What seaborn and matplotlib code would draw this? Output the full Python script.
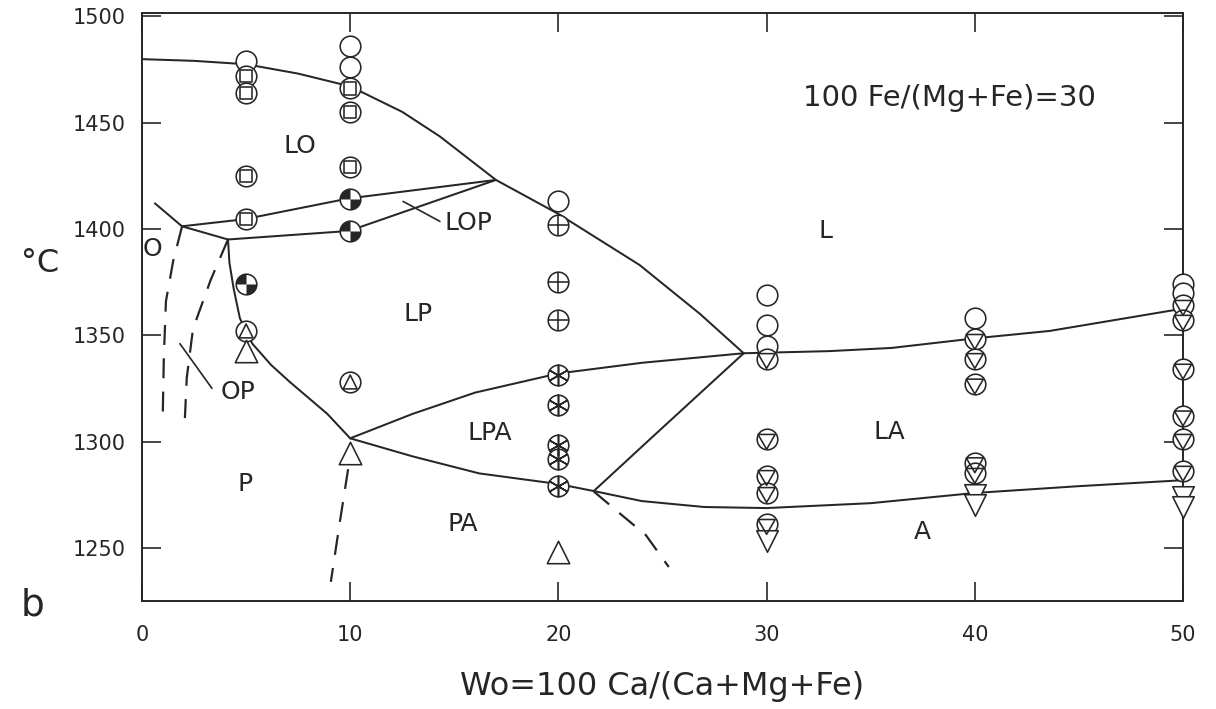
import numpy as np
import pandas as pd
import matplotlib
matplotlib.use("Agg")
import matplotlib.pyplot as plt
import seaborn as sns
from matplotlib.path import Path
from matplotlib.markers import MarkerStyle

# ---------------- data ----------------
# experiment symbols (Wo, T)
circle_x = [5, 10, 10, 20, 30, 30, 30, 40, 50, 50]
circle_T = [1479, 1486, 1476, 1413, 1369, 1355, 1345, 1358, 1374, 1370]

csquare_x = [5, 5, 5, 5, 10, 10, 10]
csquare_T = [1472, 1464, 1425, 1404.5, 1466, 1455, 1429]

checker_x = [5, 10, 10]
checker_T = [1374, 1414, 1399]

cuptri_x = [5, 10]
cuptri_T = [1352, 1328]

uptri_x = [5, 10, 20]
uptri_T = [1342.5, 1294.5, 1248]

cplus_x = [20, 20, 20]
cplus_T = [1402, 1375, 1357]

cstar_x = [20, 20, 20, 20, 20]
cstar_T = [1331.5, 1317, 1298.5, 1292, 1279]

cdtri_x = [30, 30, 30, 30, 30, 40, 40, 40, 40, 40, 50, 50, 50, 50, 50, 50]
cdtri_T = [1339, 1301, 1284, 1276, 1261, 1348, 1339, 1327, 1290, 1285,
           1364, 1357, 1334, 1312, 1301, 1286]

dtri_x = [30, 40, 40, 50, 50]
dtri_T = [1253, 1275, 1270, 1274, 1269]

# phase boundaries (solid)
liq_top_x = [0, 2.5, 5, 7.5, 10, 12.5, 14.3, 17.0]
liq_top_T = [1479.8, 1479, 1477.4, 1473, 1467, 1455, 1443.5, 1423]
l_lp_x = [17, 20, 23.9, 26.8, 28.9]
l_lp_T = [1423, 1407, 1383, 1360, 1341.5]
l_la_x = [28.9, 33, 36, 40, 43.6, 50]
l_la_T = [1341.5, 1342.5, 1344, 1348.5, 1352, 1362.5]
la_a_x = [21.7, 24, 27, 30, 35, 40, 45, 50]
la_a_T = [1276.7, 1272, 1269.2, 1268.7, 1271, 1275.8, 1279, 1281.8]
lpa_pa_x = [10, 13, 16.2, 20, 21.7]
lpa_pa_T = [1301.5, 1293, 1285, 1280, 1276.7]
lp_lpa_x = [10, 13, 16, 20, 24, 28.9]
lp_lpa_T = [1301.5, 1313, 1323, 1332, 1337, 1341.5]
lpa_la_x = [21.7, 24.5, 28.9]
lpa_la_T = [1276.7, 1302, 1341.5]
lp_p_x = [4.13, 4.2, 4.4, 4.7, 5.3, 6.2, 7.1, 8.9, 10]
lp_p_T = [1395, 1384, 1372, 1358, 1346, 1336, 1328, 1313, 1301.5]
lo_lop_x = [1.92, 4.9, 9.93, 17]
lo_lop_T = [1401.2, 1404.5, 1414.3, 1423]
lop_lp_x = [4.13, 9.93, 17]
lop_lp_T = [1395, 1399, 1423]
ol_x = [0.62, 1.92, 4.13]
ol_T = [1412, 1401.2, 1395]

# dashed boundaries
d1_x = [1.92, 1.5, 1.15, 1.05, 1.0]
d1_T = [1401, 1385, 1366, 1340, 1314]
d2_x = [4.13, 3.3, 2.45, 2.15, 2.06]
d2_T = [1395, 1376, 1353, 1330, 1311]
d3_x = [9.9, 9.5, 9.07]
d3_T = [1287, 1262, 1234]
d4_x = [21.7, 23.07, 24.2, 25.3]
d4_T = [1276.5, 1265.2, 1256, 1241]

# leader lines
lead_lop_x = [12.54, 14.31]
lead_lop_T = [1412.9, 1403.5]
lead_op_x = [1.82, 3.36]
lead_op_T = [1346, 1325]

# field labels
field_names = ["LO", "LOP", "L", "LP", "LPA", "LA", "PA", "P", "A", "OP", "O"]
field_x = [7.6, 15.66, 32.85, 13.26, 16.7, 35.9, 15.4, 4.95, 37.5, 4.6, 0.5]
field_T = [1438.8, 1402.6, 1398.8, 1359.8, 1303.8, 1304.7, 1261.4, 1280.2, 1257.6, 1323.5, 1390.4]

x_ticks = [0, 10, 20, 30, 40, 50]
y_ticks = [1250, 1300, 1350, 1400, 1450, 1500]

# ---------------- style ----------------
sns.set_theme(style="ticks")
plt.rcParams["font.family"] = ["DejaVu Sans"]
INK = "#262626"

fig = plt.figure(figsize=(12.16, 7.09), dpi=100)
ax = fig.add_axes([142 / 1216, 1 - 601 / 709, (1183 - 142) / 1216, (601 - 13) / 709])

LW = 1.45


def line(xs, ts, dashed=False, lw=LW):
    sns.lineplot(x=xs, y=ts, ax=ax, color=INK, lw=lw, sort=False, estimator=None,
                 linestyle=(0, (9, 6)) if dashed else "-")


for xs, ts in [(liq_top_x, liq_top_T), (l_lp_x, l_lp_T), (l_la_x, l_la_T), (la_a_x, la_a_T),
               (lpa_pa_x, lpa_pa_T), (lp_lpa_x, lp_lpa_T), (lpa_la_x, lpa_la_T), (lp_p_x, lp_p_T),
               (lo_lop_x, lo_lop_T), (lop_lp_x, lop_lp_T), (ol_x, ol_T)]:
    line(xs, ts)
for xs, ts in [(d1_x, d1_T), (d2_x, d2_T), (d3_x, d3_T), (d4_x, d4_T)]:
    line(xs, ts, dashed=True, lw=1.6)
line(lead_lop_x, lead_lop_T, lw=1.2)
line(lead_op_x, lead_op_T, lw=1.2)

CS = 220  # circle size
EW = 1.15

checker = Path.make_compound_path(Path.wedge(90, 180), Path.wedge(270, 360))
inscribed_down = Path([(0, -1), (0.866, 0.5), (-0.866, 0.5), (0, -1)],
                      [Path.MOVETO, Path.LINETO, Path.LINETO, Path.CLOSEPOLY])


def circles(xs, ts):
    sns.scatterplot(x=xs, y=ts, ax=ax, marker="o", s=CS, color="white",
                    edgecolor=INK, linewidth=EW, zorder=3, clip_on=False)


def inner(xs, ts, marker, s, filled=False, z=4):
    kw = dict(color=INK, linewidth=EW) if filled else dict(color="none", edgecolor=INK, linewidth=EW)
    sns.scatterplot(x=xs, y=ts, ax=ax, marker=marker, s=s, zorder=z, clip_on=False, **kw)


# plain circles
circles(circle_x, circle_T)
# circle + square
circles(csquare_x, csquare_T)
inner(csquare_x, csquare_T, "s", 76)
# checker circles
circles(checker_x, checker_T)
sns.scatterplot(x=checker_x, y=checker_T, ax=ax, marker=MarkerStyle(checker), s=CS,
                color=INK, linewidth=0, zorder=4, clip_on=False)
# circle + up-triangle
circles(cuptri_x, cuptri_T)
inner(cuptri_x, cuptri_T, "^", 100)
# plain up triangles
sns.scatterplot(x=uptri_x, y=uptri_T, ax=ax, marker="^", s=260, color="white",
                edgecolor=INK, linewidth=EW, zorder=3, clip_on=False)
# circle + plus
circles(cplus_x, cplus_T)
inner(cplus_x, cplus_T, "+", CS, filled=True)
# circle + asterisk
circles(cstar_x, cstar_T)
inner(cstar_x, cstar_T, (6, 2, 0), CS, filled=True)
# circle + inscribed down triangle
circles(cdtri_x, cdtri_T)
inner(cdtri_x, cdtri_T, MarkerStyle(inscribed_down), CS * 0.92)
# plain down triangles
sns.scatterplot(x=dtri_x, y=dtri_T, ax=ax, marker="v", s=240, color="white",
                edgecolor=INK, linewidth=EW, zorder=3, clip_on=False)

# field labels
for name, fx, ft in zip(field_names, field_x, field_T):
    ax.text(fx, ft, name, ha="center", va="center", fontsize=18,
            color=INK, zorder=5)

ax.text(38.8, 1461.4, "100 Fe/(Mg+Fe)=30", ha="center", va="center",
        fontsize=21, color=INK)

# axes
ax.set_xlim(0, 50)
ax.set_ylim(1225, 1501.5)
ax.set_xticks(x_ticks)
ax.set_yticks(y_ticks)
ax.tick_params(direction="in", length=14, width=1.2, top=True, right=True,
               labelsize=15, colors=INK)
ax.tick_params(axis="x", pad=17)
ax.tick_params(axis="y", pad=12)
for sp in ax.spines.values():
    sp.set_visible(True)
    sp.set_color(INK)
    sp.set_linewidth(1.4)
ax.set_xlabel("Wo=100 Ca/(Ca+Mg+Fe)", fontsize=23, color=INK, labelpad=19)
ax.set_ylabel("°C", fontsize=23, rotation=0, color=INK)
ax.yaxis.set_label_coords(-0.098, 0.547)
fig.text(33 / 1216, 1 - 605 / 709, "b", fontsize=27, color=INK, ha="center", va="center")

fig.savefig("out.png", dpi=100, facecolor="white")
